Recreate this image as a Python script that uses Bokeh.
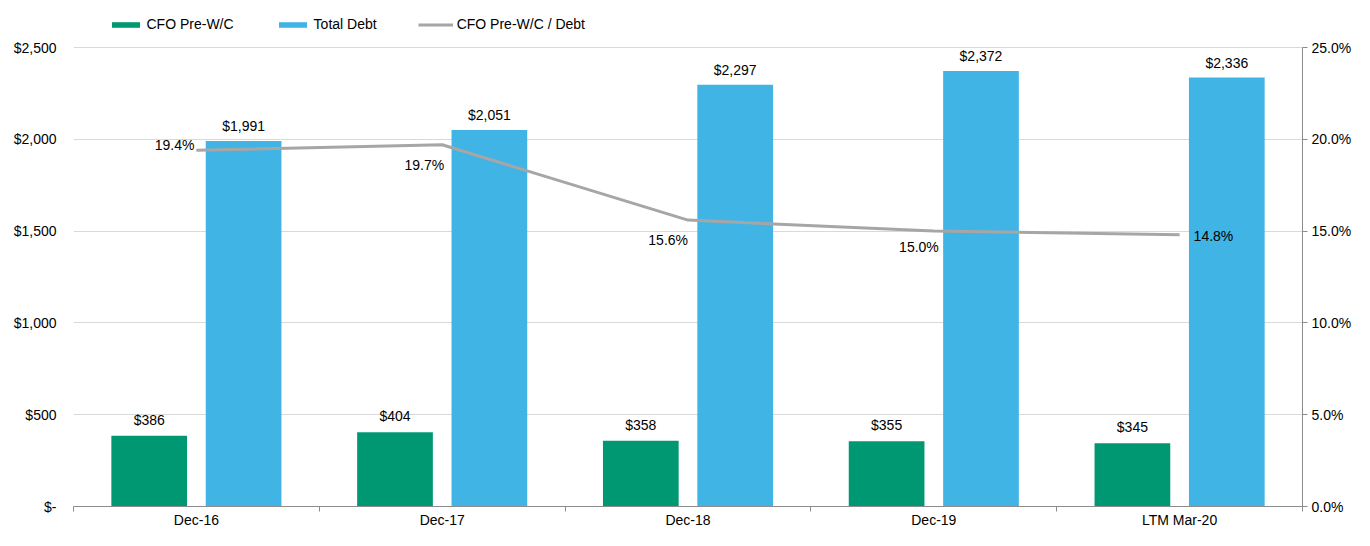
from bokeh.plotting import figure
from bokeh.models import (ColumnDataSource, Range1d, LinearAxis, FixedTicker,
                          NumeralTickFormatter, Legend, LegendItem, Grid)
from bokeh.transform import dodge
from bokeh.core.properties import value
from bokeh.embed import file_html
from bokeh.resources import INLINE

# ---------------- data ----------------
categories = ["Dec-16", "Dec-17", "Dec-18", "Dec-19", "LTM Mar-20"]
cfo_pre_wc = [386, 404, 358, 355, 345]
total_debt = [1991, 2051, 2297, 2372, 2336]
cfo_to_debt_pct = [19.4, 19.7, 15.6, 15.0, 14.8]
left_ticks = [0, 500, 1000, 1500, 2000, 2500]
right_ticks_pct = [0.0, 5.0, 10.0, 15.0, 20.0, 25.0]

# ---------------- style ----------------
FONT = "Liberation Sans"
GREEN = "#009873"
BLUE = "#41B4E6"
LINE_GREY = "#A6A6A6"
AXIS_GREY = "#8C8C8C"
GRID_GREY = "#D9D9D9"
TXT = "#000000"
BAR_OFF = 0.192
BAR_W = 0.308

W, H = 1354, 530
TOP, BOTTOM, LEFT, RIGHT = 8, 24, 73, 48
AXIS_TOP_PX = 47          # pixel row where the top tick (2500 / 25%) sits
LEGEND_BOTTOM_PX = 32     # pixel row of the legend's lower edge

# placement of the percentage labels (style, not data)
pct_lbl_align = ["right", "right", "right", "right", "left"]
pct_lbl_xoff = [-2, 2, 0, 5, 14]
pct_lbl_yoff = [-5, 20, 20, 16, 1]

n = len(categories)
centers = [i + 0.5 for i in range(n)]
boundaries = [float(i) for i in range(n + 1)]

# the frame reaches higher than the top tick so the legend can sit inside it
frame_h = H - TOP - BOTTOM
stretch = frame_h / (H - BOTTOM - AXIS_TOP_PX)
y_max = left_ticks[-1]
pct_max = right_ticks_pct[-1] / 100.0

src = ColumnDataSource(dict(
    x=centers,
    cfo=cfo_pre_wc,
    debt=total_debt,
    ratio=[v / 100.0 for v in cfo_to_debt_pct],
    cfo_lbl=[f"${v:,}" for v in cfo_pre_wc],
    debt_lbl=[f"${v:,}" for v in total_debt],
    ratio_lbl=[f"{v:.1f}%" for v in cfo_to_debt_pct],
    ralign=pct_lbl_align,
    rxo=pct_lbl_xoff,
    ryo=pct_lbl_yoff,
))

p = figure(width=W, height=H,
           x_range=Range1d(0, n), y_range=Range1d(0, y_max * stretch),
           output_backend="svg", toolbar_location=None,
           x_axis_type=None, y_axis_type=None,
           min_border_left=LEFT, min_border_right=RIGHT,
           min_border_top=TOP, min_border_bottom=BOTTOM)
p.outline_line_color = None
p.background_fill_color = "white"
p.border_fill_color = "white"
p.extra_y_ranges = {"pct": Range1d(0, pct_max * stretch)}

# left axis (labels only)
yax = LinearAxis(ticker=FixedTicker(ticks=left_ticks),
                 formatter=NumeralTickFormatter(format="$0,0"),
                 major_label_overrides={0: "$-"})
yax.axis_line_color = None
yax.major_tick_line_color = None
yax.minor_tick_line_color = None
yax.major_tick_out = 0
yax.major_tick_in = 0
yax.major_label_standoff = 17
yax.major_label_text_font = FONT
yax.major_label_text_font_size = "14px"
yax.major_label_text_color = TXT
p.add_layout(yax, "left")

p.add_layout(Grid(dimension=1, ticker=yax.ticker, grid_line_color=GRID_GREY,
                  grid_line_width=1))

# right axis
rax = LinearAxis(y_range_name="pct",
                 ticker=FixedTicker(ticks=[v / 100.0 for v in right_ticks_pct]),
                 formatter=NumeralTickFormatter(format="0.0%"),
                 bounds=(0, pct_max))
rax.axis_line_color = AXIS_GREY
rax.major_tick_line_color = AXIS_GREY
rax.minor_tick_line_color = None
rax.major_tick_out = 5
rax.major_tick_in = 0
rax.major_label_standoff = 4
rax.major_label_text_font = FONT
rax.major_label_text_font_size = "14px"
rax.major_label_text_color = TXT
p.add_layout(rax, "right")

# bottom axis: labels at category centres, ticks at boundaries
xax = LinearAxis(ticker=FixedTicker(ticks=centers, minor_ticks=boundaries),
                 major_label_overrides={c: cat for c, cat in zip(centers, categories)})
xax.axis_line_color = AXIS_GREY
xax.major_tick_line_color = None
xax.major_tick_out = 0
xax.major_tick_in = 0
xax.minor_tick_line_color = AXIS_GREY
xax.minor_tick_out = 5
xax.minor_tick_in = 0
xax.major_label_standoff = 0
xax.major_label_text_font = FONT
xax.major_label_text_font_size = "14px"
xax.major_label_text_color = TXT
p.add_layout(xax, "below")

# bars
g = p.vbar(x=dodge("x", -BAR_OFF, range=p.x_range), top="cfo", width=BAR_W,
           source=src, fill_color=GREEN, line_color=None)
b = p.vbar(x=dodge("x", BAR_OFF, range=p.x_range), top="debt", width=BAR_W,
           source=src, fill_color=BLUE, line_color=None)

# ratio line
ln = p.line(x="x", y="ratio", y_range_name="pct", source=src,
            line_color=LINE_GREY, line_width=3)

# bar labels
p.text(x=dodge("x", -BAR_OFF, range=p.x_range), y="cfo", text="cfo_lbl", source=src,
       text_align="center", text_baseline="middle", y_offset=-16,
       text_font=value(FONT), text_font_size="14px", text_color=TXT)
p.text(x=dodge("x", BAR_OFF, range=p.x_range), y="debt", text="debt_lbl", source=src,
       text_align="center", text_baseline="middle", y_offset=-15,
       text_font=value(FONT), text_font_size="14px", text_color=TXT)

# ratio labels
p.text(x="x", y="ratio", text="ratio_lbl", source=src, y_range_name="pct",
       text_align="ralign", text_baseline="middle", x_offset="rxo", y_offset="ryo",
       text_font=value(FONT), text_font_size="14px", text_color=TXT)

# legend (location measured from the frame's bottom-left corner)
legend = Legend(items=[LegendItem(label="CFO Pre-W/C", renderers=[g]),
                       LegendItem(label="Total Debt", renderers=[b]),
                       LegendItem(label="CFO Pre-W/C / Debt", renderers=[ln])],
                location=(34.5, (H - BOTTOM) - LEGEND_BOTTOM_PX),
                orientation="horizontal")
legend.glyph_width = 35
legend.glyph_height = 7
legend.label_height = 16
legend.label_standoff = 4
legend.spacing = 41
legend.padding = 0
legend.margin = 0
legend.border_line_color = None
legend.background_fill_alpha = 0
legend.label_text_font = FONT
legend.label_text_font_size = "14px"
legend.label_text_color = TXT
p.add_layout(legend)

open("out.html", "w").write(file_html(p, INLINE))
